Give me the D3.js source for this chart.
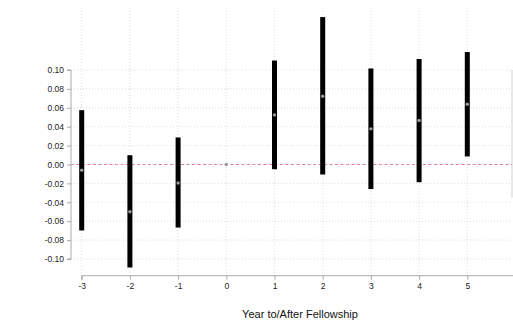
<!DOCTYPE html>
<html><head><meta charset="utf-8">
<script src="https://cdn.jsdelivr.net/npm/d3@7"></script>
<style>body{margin:0;background:#fff}svg{display:block;font-family:"Liberation Sans",Arial,sans-serif}</style>
</head><body>
<svg id="c" width="513" height="323"></svg>
<script>
const years = [-3, -2, -1, 0, 1, 2, 3, 4, 5];
const estimates = [-0.006, -0.050, -0.0195, 0.000, 0.0525, 0.0723, 0.0377, 0.0466, 0.0638];
const lower = [-0.0698, -0.109, -0.0667, 0.000, -0.005, -0.0106, -0.026, -0.0187, 0.0085];
const upper = [0.0575, 0.0098, 0.0286, 0.000, 0.110, 0.156, 0.1016, 0.1117, 0.119];
const yTicks = [-0.10, -0.08, -0.06, -0.04, -0.02, 0.00, 0.02, 0.04, 0.06, 0.08, 0.10];
const xTicks = [-3, -2, -1, 0, 1, 2, 3, 4, 5, 6];
const xTitle = "Year to/After Fellowship";

const svg = d3.select("#c");
const x = d3.scaleLinear().domain([-3, 6]).range([81.7, 515.5]);
const y = d3.scaleLinear().domain([-0.10, 0.10]).range([259, 70]);
const left = 71, right = 512;

// gridlines
svg.append("g").selectAll("line").data(yTicks).join("line")
  .attr("x1", left).attr("x2", right)
  .attr("y1", d => y(d)).attr("y2", d => y(d))
  .attr("stroke", "#d4d4d4").attr("stroke-width", 0.8).attr("stroke-dasharray", "1,2");
svg.append("g").selectAll("line").data(xTicks.filter(d => d <= 5)).join("line")
  .attr("x1", d => x(d)).attr("x2", d => x(d))
  .attr("y1", 8).attr("y2", 274)
  .attr("stroke", "#d4d4d4").attr("stroke-width", 0.8).attr("stroke-dasharray", "1,2");

// right edge line
svg.append("line").attr("x1", 512).attr("x2", 512).attr("y1", y(0.10)).attr("y2", y(-0.035))
  .attr("stroke", "#d0d0d0").attr("stroke-width", 1);

// zero line
svg.append("line").attr("x1", left).attr("x2", right).attr("y1", y(0)).attr("y2", y(0))
  .attr("stroke", "#e47fae").attr("stroke-width", 1).attr("stroke-dasharray", "3,2.5");

// y axis
const yAxis = svg.append("g").attr("transform", `translate(${left},0)`)
  .call(d3.axisLeft(y).tickValues(yTicks).tickSize(4).tickPadding(3).tickFormat(d3.format(".2f")));
yAxis.select(".domain").attr("stroke", "#aaa").attr("d", `M-4,${y(0.10)}H0V${y(-0.10)}H-4`);
yAxis.selectAll(".tick line").attr("stroke", "#aaa");
yAxis.selectAll("text").attr("font-size", 8.5).attr("fill", "#222")
  .text(d => d3.format(".2f")(d).replace("−", "-"));

// x axis
const xAxis = svg.append("g").attr("transform", `translate(0,275.7)`)
  .call(d3.axisBottom(x).tickValues(xTicks).tickSize(4).tickPadding(3).tickFormat(d3.format("d")));
xAxis.select(".domain").attr("stroke", "#aaa").attr("d", `M${x(-3)},4V0H513`);
xAxis.selectAll(".tick line").attr("stroke", "#aaa");
xAxis.selectAll("text").attr("font-size", 8.5).attr("fill", "#222")
  .text(d => String(d).replace("−", "-"));

// bars
const data = years.map((yr, i) => ({yr, est: estimates[i], lo: lower[i], hi: upper[i]}));
svg.append("g").selectAll("rect").data(data.filter(d => d.hi !== d.lo)).join("rect")
  .attr("x", d => x(d.yr) - 2.5).attr("width", 5)
  .attr("y", d => y(d.hi)).attr("height", d => y(d.lo) - y(d.hi))
  .attr("fill", "#000");

// points
svg.append("g").selectAll("circle").data(data).join("circle")
  .attr("cx", d => x(d.yr)).attr("cy", d => y(d.est)).attr("r", 1.7)
  .attr("fill", "#9a9a9a");

// title
svg.append("text").attr("x", 300).attr("y", 318).attr("text-anchor", "middle")
  .attr("font-size", 11).attr("fill", "#111").text(xTitle);
</script>
</body></html>
